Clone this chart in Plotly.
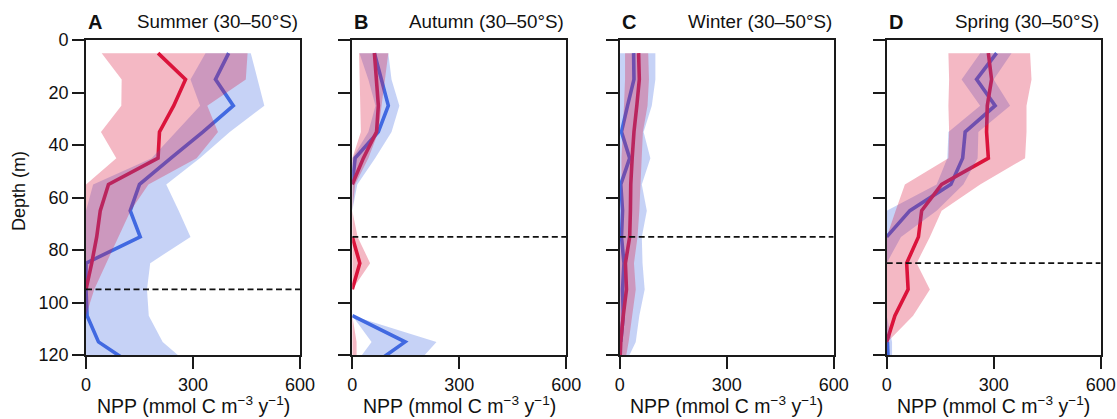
import plotly.graph_objects as go

# ---------------- data ----------------
depths = [5, 15, 25, 35, 45, 55, 65, 75, 85, 95, 105, 115, 125]
letters = ["A", "B", "C", "D"]
seasons = ["Summer (30–50°S)", "Autumn (30–50°S)", "Winter (30–50°S)", "Spring (30–50°S)"]
mld = [95, 75, 75, 85]
x_ticks = [0, 300, 600]
y_ticks = [0, 20, 40, 60, 80, 100, 120]
x_title = "NPP (mmol C m<sup>−3</sup> y<sup>−1</sup>)"
y_title = "Depth (m)"

# Summer
summer_blue = [400, 363, 413, 328, 238, 150, 124, 152, 0, 0, 3, 35, 145]
summer_blue_lo = [335, 293, 320, 253, 184, 20, 0, 0, 0, 0, 0, 0, 0]
summer_blue_hi = [462, 481, 500, 403, 319, 225, 260, 293, 180, 171, 176, 215, 300]
summer_red = [202, 279, 246, 206, 202, 63, 40, 30, 16, 0, None, None, None]
summer_red_lo = [44, 100, 99, 42, 85, 0, 0, 0, 0, 0, 0, 0, 0]
summer_red_hi = [453, 448, 340, 370, 310, 175, 125, 91, 57, 23, 0, 0, 0]

# Autumn
autumn_blue = [62, 82, 101, 73, 8, 0, None, None, None, None, 0, 148, 44]
autumn_blue_lo = [20, 45, 65, 45, 0, 0, 0, 0, 0, 0, 0, 54, 0]
autumn_blue_hi = [101, 110, 132, 110, 64, 14, 0, 0, 0, 0, 0, 236, 170]
autumn_red = [62, 68, 73, 68, 31, 0, None, 0, 21, 0, None, None, None]
autumn_red_lo = [19, 20, 22, 24, 0, 0, 0, 0, 0, 0, 0, 0, 0]
autumn_red_hi = [101, 92, 82, 73, 45, 8, 0, 15, 50, 0, 0, 12, 12]

# Winter
winter_blue = [39, 40, 22, 5, 28, 3, 8, 5, 12, 8, 10, 3, None]
winter_blue_lo = [0, 0, 0, 0, 0, 0, 0, 0, 0, 0, 0, 0, 0]
winter_blue_hi = [100, 100, 90, 67, 86, 62, 76, 62, 64, 70, 55, 45, 10]
winter_red = [53, 55, 48, 40, 35, 31, 30, 28, 16, 19, 10, 3, 0]
winter_red_lo = [15, 15, 12, 8, 5, 5, 5, 3, 0, 0, 0, 0, 0]
winter_red_hi = [80, 82, 78, 65, 62, 58, 55, 50, 40, 45, 35, 25, 12]

# Spring
spring_blue = [308, 252, 304, 220, 213, 180, 65, 0, None, None, None, 2, 5]
spring_blue_lo = [262, 210, 262, 173, 170, 140, 0, 0, 0, 0, 0, 0, 0]
spring_blue_hi = [350, 300, 346, 257, 255, 215, 140, 40, 0, 0, 0, 15, 15]
spring_red = [285, 294, 282, 280, 285, 154, 98, 89, 56, 60, 23, 0, None]
spring_red_lo = [173, 175, 173, 175, 173, 51, 25, 0, 0, 0, 0, 0, 0]
spring_red_hi = [402, 406, 392, 392, 388, 262, 154, 121, 84, 121, 74, 2, 0]

panels = [
    (summer_blue, summer_blue_lo, summer_blue_hi, summer_red, summer_red_lo, summer_red_hi),
    (autumn_blue, autumn_blue_lo, autumn_blue_hi, autumn_red, autumn_red_lo, autumn_red_hi),
    (winter_blue, winter_blue_lo, winter_blue_hi, winter_red, winter_red_lo, winter_red_hi),
    (spring_blue, spring_blue_lo, spring_blue_hi, spring_red, spring_red_lo, spring_red_hi),
]

# ---------------- style ----------------
W, H = 1117, 419
BLUE = "rgb(65,105,225)"
RED = "rgb(220,20,60)"
BLUE_FILL = "rgba(65,105,225,0.30)"
RED_FILL = "rgba(220,20,60,0.30)"
AXC = "#1a1a1a"
TXT = "#111111"
FONT = "Liberation Sans, Arial, sans-serif"
FS = 18

lefts = [86, 352.3, 619.7, 886.7]
width_px = 214
top_px, bot_px = 40, 355

fig = go.Figure()

for i, (bm, blo, bhi, rm, rlo, rhi) in enumerate(panels):
    xa = "x" if i == 0 else f"x{i+1}"
    ya = "y" if i == 0 else f"y{i+1}"
    # lines first
    fig.add_trace(go.Scatter(x=bm, y=depths, mode="lines", line=dict(color=BLUE, width=3.6),
                             xaxis=xa, yaxis=ya, showlegend=False, hoverinfo="skip"))
    fig.add_trace(go.Scatter(x=rm, y=depths, mode="lines", line=dict(color=RED, width=3.6),
                             xaxis=xa, yaxis=ya, showlegend=False, hoverinfo="skip"))
    # bands on top
    fig.add_trace(go.Scatter(x=blo + bhi[::-1], y=depths + depths[::-1], mode="lines",
                             fill="toself", fillcolor=BLUE_FILL, line=dict(width=0),
                             xaxis=xa, yaxis=ya, showlegend=False, hoverinfo="skip"))
    fig.add_trace(go.Scatter(x=rlo + rhi[::-1], y=depths + depths[::-1], mode="lines",
                             fill="toself", fillcolor=RED_FILL, line=dict(width=0),
                             xaxis=xa, yaxis=ya, showlegend=False, hoverinfo="skip"))
    # mixed layer depth
    fig.add_trace(go.Scatter(x=[x_ticks[0], x_ticks[-1]], y=[mld[i], mld[i]], mode="lines",
                             line=dict(color="#111111", width=1.6, dash="6px,3.5px"),
                             xaxis=xa, yaxis=ya, showlegend=False, hoverinfo="skip"))

    x0 = lefts[i] / W
    x1 = (lefts[i] + width_px) / W
    common = dict(showline=True, linecolor=AXC, linewidth=1.8, mirror=True,
                  ticks="outside", ticklen=12, tickwidth=1.8, tickcolor=AXC,
                  showgrid=False, zeroline=False, automargin=False,
                  tickfont=dict(family=FONT, size=FS, color=TXT))
    fig.layout[f"xaxis{'' if i == 0 else i+1}"] = dict(
        domain=[x0, x1], anchor=ya, range=[0, 600], tickvals=x_ticks, **common)
    fig.layout[f"yaxis{'' if i == 0 else i+1}"] = dict(
        domain=[1 - bot_px / H, 1 - top_px / H], anchor=xa, range=[120, 0],
        tickvals=y_ticks, showticklabels=(i == 0), **common)

    # panel titles
    fig.add_annotation(xref="paper", yref="paper", x=x0, y=1 - 22 / H, xanchor="left",
                       yanchor="middle", text=f"<b>{letters[i]}</b>", showarrow=False,
                       font=dict(family=FONT, size=20, color=TXT))
    fig.add_annotation(xref="paper", yref="paper", x=x1, y=1 - 22 / H, xanchor="right",
                       yanchor="middle", text=seasons[i], showarrow=False,
                       font=dict(family=FONT, size=18.8, color=TXT))
    # x-axis title
    fig.add_annotation(xref="paper", yref="paper", x=(x0 + x1) / 2, y=1 - 405 / H,
                       xanchor="center", yanchor="middle", text=x_title, showarrow=False,
                       font=dict(family=FONT, size=19.5, color=TXT))

# y-axis title
fig.add_annotation(xref="paper", yref="paper", x=19 / W, y=1 - 191 / H, xanchor="center",
                   yanchor="middle", text=y_title, textangle=-90, showarrow=False,
                   font=dict(family=FONT, size=18, color=TXT))

fig.update_layout(width=W, height=H, margin=dict(l=0, r=0, t=0, b=0),
                  plot_bgcolor="white", paper_bgcolor="white",
                  font=dict(family=FONT, size=FS, color=TXT))

fig.write_html("out.html")
